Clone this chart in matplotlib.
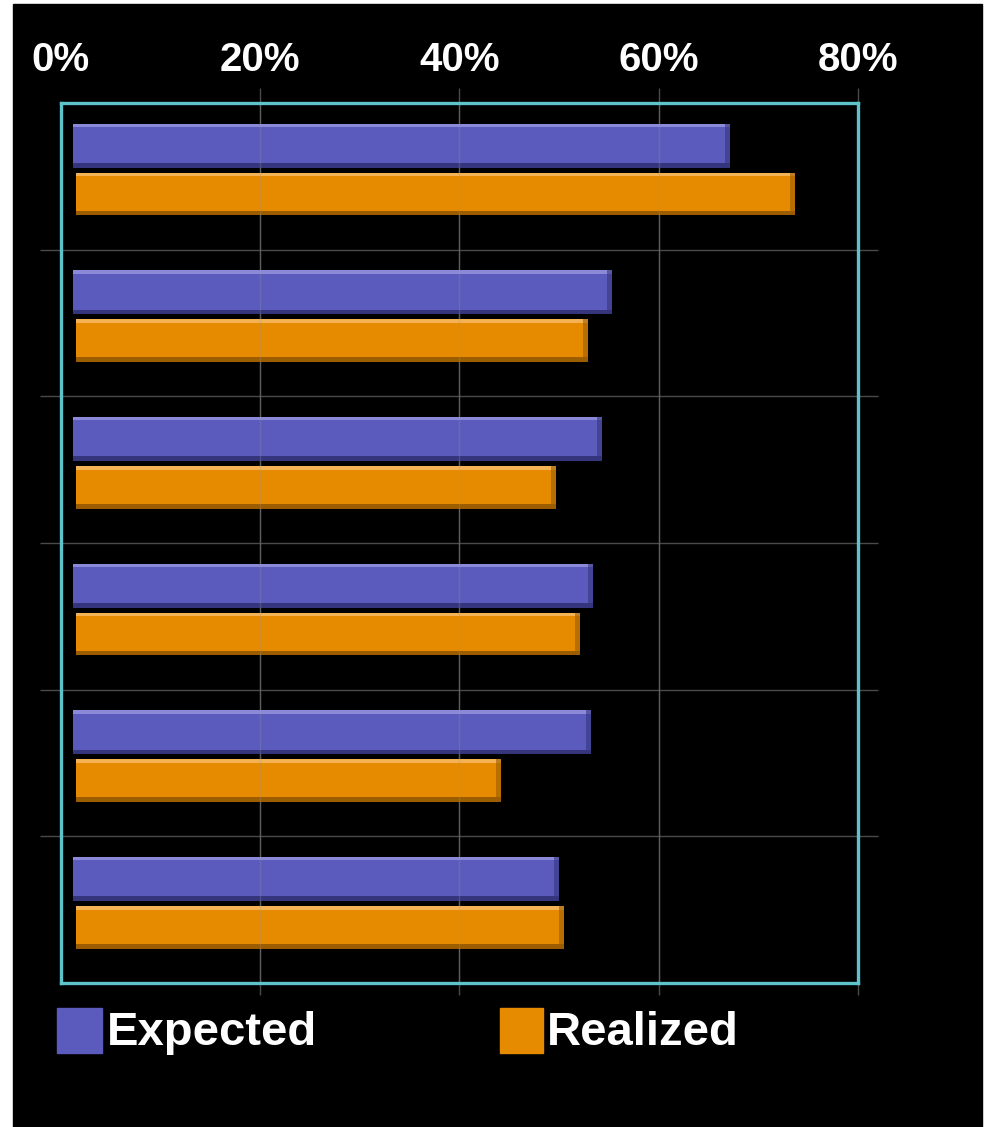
import matplotlib.pyplot as plt
import numpy as np
from matplotlib.patches import Rectangle

# values (percent), top group first
expected = [67.2, 55.3, 54.3, 53.4, 53.2, 50.0]
realized = [73.7, 52.9, 49.7, 52.1, 44.2, 50.5]
tick_vals = [0, 20, 40, 60, 80]
tick_labels = ["0%", "20%", "40%", "60%", "80%"]
series_names = ["Expected", "Realized"]

blue = "#5b5bbd"
blue_hi = "#8a8ad8"
blue_lo = "#35357e"
orange = "#e68a00"
orange_hi = "#f3b355"
orange_lo = "#9c5c00"
frame_col = "#5fc3cb"
grid_col = "#4a4a4a"

plt.rcParams["font.family"] = ["Liberation Sans", "DejaVu Sans"]

fig = plt.figure(figsize=(9.87, 11.27), dpi=100)
fig.patch.set_facecolor("white")
# black slide area, kept behind the axes
fig.patches.append(Rectangle((13 / 987, 0), 969 / 987, 1123 / 1127,
                             transform=fig.transFigure, color="black", zorder=-5))

ax = fig.add_axes([61 / 987, 144 / 1127, 797 / 987, 880 / 1127])
ax.patch.set_alpha(0)

n = len(expected)
y = np.arange(n) + 0.5
h_exp, h_real = 0.30, 0.29
off_exp, off_real = -0.21, 0.12
left_exp, left_real = 1.2, 1.5

def bevel_bars(vals, yc, h, left, base, hi, lo):
    vals = np.array(vals)
    w = vals - left
    ax.barh(yc, w, height=h, left=left, color=base, zorder=3)
    top = yc - h / 2
    bot = yc + h / 2
    ax.barh(top + 0.012, w, height=0.024, left=left, color=hi, zorder=4)
    ax.barh(bot - 0.015, w, height=0.03, left=left, color=lo, zorder=4)
    ax.barh(yc, 0.5, height=h, left=vals - 0.5, color=lo, alpha=0.6, zorder=4)

bevel_bars(expected, y + off_exp, h_exp, left_exp, blue, blue_hi, blue_lo)
bevel_bars(realized, y + off_real, h_real, left_real, orange, orange_hi, orange_lo)

ax.set_xlim(0, 80)
ax.set_ylim(n, 0)

# grid lines running past the frame, faintly visible over the bars too
ax.vlines(tick_vals[1:], -0.1, n + 0.08, color=grid_col, lw=1, zorder=2, clip_on=False)
ax.vlines(tick_vals[1:-1], 0, n, color="#9a9a9a", lw=1, alpha=0.25, zorder=4.5)
ax.hlines(np.arange(1, n), -2.1, 82, color=grid_col, lw=1, zorder=2, clip_on=False)

for s in ax.spines.values():
    s.set_color(frame_col)
    s.set_linewidth(2.4)
    s.set_zorder(5)

ax.xaxis.tick_top()
ax.set_xticks(tick_vals)
ax.set_xticklabels(tick_labels, color="white", fontsize=29, fontweight="bold")
ax.tick_params(axis="x", length=0, pad=17)
ax.set_yticks([])

# legend
fig.patches.append(Rectangle((57 / 987, 74 / 1127), 45 / 987, 45 / 1127,
                             transform=fig.transFigure, color=blue, zorder=3))
fig.patches.append(Rectangle((500 / 987, 74 / 1127), 43 / 987, 45 / 1127,
                             transform=fig.transFigure, color=orange, zorder=3))
fig.text(107 / 987, 82 / 1127, series_names[0], color="white", fontsize=34,
         fontweight="bold", va="baseline", ha="left")
fig.text(547 / 987, 82 / 1127, series_names[1], color="white", fontsize=34,
         fontweight="bold", va="baseline", ha="left")

fig.savefig("out.png", dpi=100)
